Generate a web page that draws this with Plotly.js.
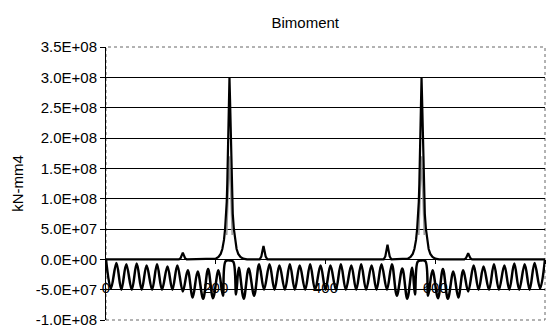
<!DOCTYPE html>
<html><head><meta charset="utf-8">
<script src="https://cdn.plot.ly/plotly-3.0.1.min.js"></script>
<style>html,body{margin:0;padding:0;background:#fff}#chart{width:555px;height:330px}</style>
</head><body><div id="chart"></div>
<script>
// Main bimoment curve (kN-mm4)
const mainX = [0, 133, 136, 138, 140, 142, 144, 147,
  193, 200, 205, 209, 212, 215, 217, 219, 220, 221, 222, 223, 224, 225, 226, 227, 228, 229, 230, 231, 233, 235, 238, 241, 245, 250, 257,
  280, 283, 285, 287, 289, 291, 294,
  506, 509, 511, 513, 515, 517, 520,
  543, 550, 555, 559, 562, 565, 567, 569, 570, 571, 572, 573, 574, 575, 576, 577, 578, 579, 580, 581, 583, 585, 588, 591, 595, 600, 607,
  653, 656, 658, 660, 662, 664, 667, 800];
const mainY = [0, 0, 0.22e7, 0.66e7, 1.1e7, 0.66e7, 0.22e7, 0,
  0, 0.12e7, 0.4e7, 0.9e7, 1.7e7, 3.2e7, 5.0e7, 7.5e7, 9.5e7, 1.25e8, 1.65e8, 2.15e8, 2.65e8, 3.0e8, 2.65e8, 2.15e8, 1.65e8, 1.25e8, 9.5e7, 7.5e7, 5.0e7, 3.2e7, 1.7e7, 0.9e7, 0.4e7, 0.12e7, 0,
  0, 0.44e7, 1.32e7, 2.2e7, 1.32e7, 0.44e7, 0,
  0, 0.48e7, 1.44e7, 2.4e7, 1.44e7, 0.48e7, 0,
  0, 0.12e7, 0.4e7, 0.9e7, 1.7e7, 3.2e7, 5.0e7, 7.5e7, 9.5e7, 1.25e8, 1.65e8, 2.15e8, 2.65e8, 3.0e8, 2.65e8, 2.15e8, 1.65e8, 1.25e8, 9.5e7, 7.5e7, 5.0e7, 3.2e7, 1.7e7, 0.9e7, 0.4e7, 0.12e7, 0,
  0, 0.2e7, 0.6e7, 1.0e7, 0.6e7, 0.2e7, 0, 0];

// Lighter inner curve visible inside the two peaks
const innerX = [220, 222, 223.5, 225, 226.5, 228, 230, 570, 572, 573.5, 575, 576.5, 578, 580];
const innerY = [4e7, 8.5e7, 1.3e8, 1.7e8, 1.3e8, 8.5e7, 4e7, 4e7, 8.5e7, 1.3e8, 1.7e8, 1.3e8, 8.5e7, 4e7];

// Oscillating curve
const oscX = [0, 9, 19, 28, 37, 47, 56, 65, 74, 84, 93, 102, 112, 121, 130, 140, 149, 158, 167, 177, 186, 195, 205, 213,
  218, 226, 232, 237, 242, 251, 260, 270, 279, 288, 298, 307, 316, 326, 335, 344, 353, 363, 372, 381, 391, 400,
  409, 419, 428, 437, 447, 456, 465, 474, 484, 493, 502, 512, 521, 530, 540, 549, 558, 563, 568, 574, 582,
  587, 595, 605, 614, 623, 633, 642, 651, 660, 670, 679, 688, 698, 707, 716, 726, 735, 744, 753, 763, 772, 781, 791, 800];
const oscY = [0, -4.8e7, -0.6e7, -5.0e7, -0.8e7, -5.0e7, -0.7e7, -5.0e7, -1.0e7, -5.0e7, -0.8e7, -5.0e7, -1.2e7, -5.0e7, -1.0e7, -5.3e7, -1.8e7, -6.3e7, -2.0e7, -6.5e7, -1.6e7, -6.4e7, -1.8e7, -6.0e7,
  -0.3e7, -0.2e7, -0.4e7, -5.8e7, -1.4e7, -6.5e7, -1.5e7, -6.0e7, -0.8e7, -5.0e7, -0.8e7, -5.0e7, -1.0e7, -5.0e7, -0.8e7, -5.0e7, -1.0e7, -5.0e7, -0.8e7, -5.0e7, -1.0e7, -5.0e7,
  -1.0e7, -5.0e7, -0.8e7, -5.0e7, -1.0e7, -5.0e7, -0.8e7, -5.0e7, -1.0e7, -5.0e7, -0.8e7, -5.0e7, -0.8e7, -6.0e7, -1.5e7, -6.5e7, -1.4e7, -5.8e7, -0.4e7, -0.2e7, -0.3e7,
  -6.0e7, -1.8e7, -6.4e7, -1.6e7, -6.5e7, -2.0e7, -6.3e7, -1.8e7, -5.3e7, -1.0e7, -5.0e7, -1.2e7, -5.0e7, -0.8e7, -5.0e7, -1.0e7, -5.0e7, -0.7e7, -5.0e7, -0.8e7, -5.0e7, -0.6e7, -4.8e7, 0];

const xTickVals = [0, 200, 400, 600, 800];
const xTickText = ['0', '200', '400', '600', '800'];
const yTickVals = [-1.0e8, -5.0e7, 0, 5.0e7, 1.0e8, 1.5e8, 2.0e8, 2.5e8, 3.0e8, 3.5e8];
const yTickText = ['-1.0E+08', '-5.0E+07', '0.0E+00', '5.0E+07', '1.0E+08', '1.5E+08', '2.0E+08', '2.5E+08', '3.0E+08', '3.5E+08'];

const FONT = 'Liberation Sans, Arial, sans-serif';

const traces = [
  {x: innerX.slice(0, 7), y: innerY.slice(0, 7), mode: 'lines', line: {color: '#9a9a9a', width: 1.5}, hoverinfo: 'skip'},
  {x: innerX.slice(7), y: innerY.slice(7), mode: 'lines', line: {color: '#9a9a9a', width: 1.5}, hoverinfo: 'skip'},
  {x: mainX, y: mainY, mode: 'lines', line: {color: '#000', width: 2.2}},
  {x: oscX, y: oscY, mode: 'lines', line: {color: '#000', width: 2.5, shape: 'spline', smoothing: 1}}
];

const layout = {
  width: 555, height: 330,
  margin: {l: 106, r: 10, t: 47, b: 10},
  paper_bgcolor: '#fff', plot_bgcolor: '#fff',
  showlegend: false,
  font: {family: FONT, color: '#000', size: 15},
  title: {text: 'Bimoment', font: {family: FONT, size: 15, color: '#000'}, x: 0.55, xanchor: 'center', xref: 'container', y: 0.93, yanchor: 'middle', yref: 'container'},
  xaxis: {
    range: [0, 800], anchor: 'free', position: 1e8 / 4.5e8,
    tickvals: xTickVals, ticktext: xTickText,
    showgrid: false, zeroline: false, showline: true, linecolor: '#000', linewidth: 1,
    ticks: 'outside', ticklen: 4, tickcolor: '#000',
    ticklabelstandoff: 11,
    tickfont: {family: FONT, size: 15, color: '#000'},
    layer: 'below traces'
  },
  yaxis: {
    range: [-1e8, 3.5e8],
    tickvals: yTickVals, ticktext: yTickText,
    showgrid: true, gridcolor: '#000', gridwidth: 1,
    zeroline: true, zerolinecolor: '#000', zerolinewidth: 1.5,
    showline: true, linecolor: '#000', linewidth: 1,
    ticks: 'outside', ticklen: 5, tickcolor: '#000',
    tickfont: {family: FONT, size: 15, color: '#000'},
    title: {text: 'kN-mm4', font: {family: FONT, size: 15, color: '#000'}, standoff: 8},
    layer: 'below traces'
  },
  shapes: [
    {type: 'rect', xref: 'paper', yref: 'paper', x0: 0, x1: 1, y0: 0, y1: 1, line: {color: '#666', width: 1, dash: 'dot'}, layer: 'below'}
  ]
};

Plotly.newPlot('chart', traces, layout, {displayModeBar: false, staticPlot: true});
</script>
</body></html>
